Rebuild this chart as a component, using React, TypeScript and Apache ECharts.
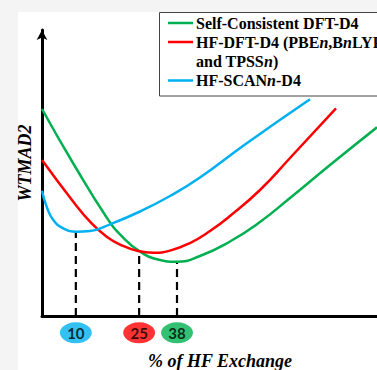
import React, { useEffect, useRef } from 'react';
import * as echarts from 'echarts';

// Schematic curves (x: position along the HF-exchange axis, schematic 0-100; y: WTMAD2, schematic 0-100)
const greenX = [0, 9.25, 19.4, 23.88, 29.25, 34.63, 40.21, 47.16, 56.12, 65.07, 74.03, 85.97, 100];
const greenY = [72.38, 53.5, 34.27, 27.8, 22.55, 19.76, 18.99, 20.98, 26.05, 32.87, 41.26, 52.8, 65.98];
const redX = [0, 9.34, 14.33, 19.31, 23.88, 28.66, 33.22, 38.21, 44.18, 50.15, 56.12, 65.07, 74.03, 87.76];
const redY = [54.55, 39.97, 32.97, 27.73, 24.65, 22.73, 22.13, 22.87, 25.52, 29.72, 34.97, 44.06, 55.24, 72.62];
const blueX = [0, 1.4, 3.37, 6.36, 10.36, 14.33, 20.3, 29.25, 38.21, 47.16, 60.6, 80.0];
const blueY = [43.81, 38.22, 33.57, 30.66, 29.48, 29.72, 32.06, 36.54, 41.96, 48.43, 59.97, 75.77];

// Optimum markers
const markerX = [10.1, 29.0, 40.3];
const markerTop = [29.5, 22.7, 19.0];
const markerLabels = ['10', '25', '38'];
const markerY = -5.9;

const GREEN = '#00b050';
const RED = '#ff0000';
const BLUE = '#00b0f0';
const markerColors = [BLUE, RED, GREEN];

// Legend rows: segments [text, italic]
const legendRows: [string, boolean][][] = [
  [['Self-Consistent DFT-D4', false]],
  [['HF-DFT-D4 (PBE', false], ['n', true], [',B', false], ['n', true], ['LYP', false]],
  [['and TPSS', false], ['n', true], [')', false]],
  [['HF-SCAN', false], ['n', true], ['-D4', false]],
];
const legendColors = [GREEN, RED, null, BLUE];

const zip = (xs: number[], ys: number[]) => xs.map((x, i) => [x, ys[i]]);

export default function App() {
  const ref = useRef<HTMLDivElement>(null);
  useEffect(() => {
    const chart = echarts.init(ref.current!, null, { renderer: 'svg' });
    const serif = '"Liberation Serif", "Times New Roman", serif';
    const ctx = document.createElement('canvas').getContext('2d')!;
    const measure = (t: string, font: string) => {
      ctx.font = font;
      return ctx.measureText(t).width;
    };
    const rowY = [23, 42, 61.5, 80.5];
    const legendChildren: any[] = [
      { type: 'rect', shape: { x: 159.5, y: 12.5, width: 240, height: 83.5 }, style: { fill: '#fff', stroke: '#444', lineWidth: 1 } },
    ];
    legendRows.forEach((row, r) => {
      const c = legendColors[r];
      if (c) {
        legendChildren.push({ type: 'line', shape: { x1: 168, y1: rowY[r], x2: 193, y2: rowY[r] }, style: { stroke: c, lineWidth: 2.5 } });
      }
      let x = 196;
      row.forEach(([t, it]) => {
        const font = `${it ? 'italic ' : ''}bold 16px ${serif}`;
        legendChildren.push({ type: 'text', x, y: rowY[r], style: { text: t, font, fill: '#000', verticalAlign: 'middle' } });
        x += measure(t, font);
      });
    });

    const curveLine = (xs: number[], ys: number[], color: string) => ({
      type: 'line',
      data: zip(xs, ys),
      smooth: 0.5,
      symbol: 'none',
      lineStyle: { color, width: 2.5 },
      z: 3,
    });
    const dashed = markerX.map((x, i) => ({
      type: 'line',
      data: [[x, 0], [x, markerTop[i]]],
      symbol: 'none',
      lineStyle: { color: '#000', width: 2.2, type: [8, 5] },
      z: 2,
    }));
    const option: any = {
      animation: false,
      backgroundColor: '#f4f4f4',
      grid: { left: 42, right: 0, top: 30, bottom: 54 },
      xAxis: {
        type: 'value',
        min: 0,
        max: 100,
        axisLine: { show: true, lineStyle: { color: '#000', width: 3 } },
        axisTick: { show: false },
        axisLabel: { show: false },
        splitLine: { show: false },
      },
      yAxis: {
        type: 'value',
        min: 0,
        max: 100,
        axisLine: {
          show: true,
          lineStyle: { color: '#000', width: 3 },
          symbol: ['none', 'arrow'],
          symbolSize: [8, 10],
        },
        axisTick: { show: false },
        axisLabel: { show: false },
        splitLine: { show: false },
      },
      series: [
        curveLine(greenX, greenY, GREEN),
        curveLine(redX, redY, RED),
        curveLine(blueX, blueY, BLUE),
        ...dashed,
        {
          type: 'scatter',
          clip: false,
          data: markerX.map((x, i) => ({
            value: [x, markerY],
            itemStyle: { color: markerColors[i] },
            label: { formatter: markerLabels[i] },
          })),
          symbol: 'circle',
          symbolSize: [32, 21],
          label: {
            show: true,
            position: 'inside',
            color: '#000',
            fontWeight: 'bold',
            fontSize: 15,
            fontFamily: 'Lato, "Open Sans", sans-serif',
          },
          z: 5,
        },
      ],
      graphic: [
        { type: 'rect', z: -10, shape: { x: 18, y: 12, width: 400, height: 400 }, style: { fill: '#fff' } },
        {
          type: 'text', x: 25, y: 163, rotation: Math.PI / 2, z: 10,
          style: { text: 'WTMAD2', font: `italic bold 18px ${serif}`, fill: '#000', align: 'center', verticalAlign: 'middle' },
        },
        {
          type: 'text', x: 220, y: 361, z: 10,
          style: { text: '% of HF Exchange', font: `italic bold 18px ${serif}`, fill: '#000', align: 'center', verticalAlign: 'middle' },
        },
        { type: 'group', z: 100, children: legendChildren },
      ],
    };
    chart.setOption(option);
    return () => chart.dispose();
  }, []);
  return <div ref={ref} style={{ position: 'absolute', left: 0, top: 0, width: 377, height: 370 }} />;
}
